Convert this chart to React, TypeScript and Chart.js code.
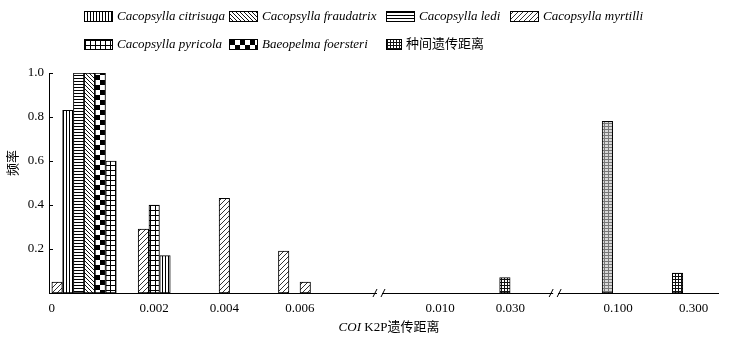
import React, { useEffect, useRef } from 'react';
import { Chart, registerables } from 'chart.js';

Chart.register(...registerables);

// x axis is a row of narrow bins (half a bar wide)
const BIN_COUNT = 124;
const tickBins = [0, 19, 32, 46, 72, 85, 105, 119];
const tickLabels = ['0', '0.002', '0.004', '0.006', '0.010', '0.030', '0.100', '0.300'];
const breakBins = [60.85, 93.5];
const yTicks = [0.2, 0.4, 0.6, 0.8, 1.0];

const seriesNames = [
  'Cacopsylla citrisuga',
  'Cacopsylla fraudatrix',
  'Cacopsylla ledi',
  'Cacopsylla myrtilli',
  'Cacopsylla pyricola',
  'Baeopelma foersteri',
  '种间遗传距离',
];

const citrisugaBins = [3, 21];
const citrisugaValues = [0.83, 0.17];
const fraudatrixBins = [7];
const fraudatrixValues = [1.0];
const lediBins = [5];
const lediValues = [1.0];
const myrtilliBins = [1, 17, 32, 43, 47];
const myrtilliValues = [0.05, 0.29, 0.43, 0.19, 0.05];
const pyricolaBins = [11, 19];
const pyricolaValues = [0.6, 0.4];
const foersteriBins = [9];
const foersteriValues = [1.0];
const interBins = [84, 103, 116];
const interValues = [0.07, 0.78, 0.09];

const xTitleItalic = 'COI';
const xTitleRest = ' K2P遗传距离';
const yTitle = '频率';

const SERIF = "'Liberation Serif', 'Noto Sans CJK SC', serif";

function toBins(bins: number[], values: number[]) {
  const arr: (number | null)[] = new Array(BIN_COUNT).fill(null);
  bins.forEach((b, i) => {
    arr[b] = values[i];
  });
  return arr;
}

function makePattern(
  main: CanvasRenderingContext2D,
  w: number,
  h: number,
  draw: (g: CanvasRenderingContext2D) => void
): CanvasPattern {
  const c = document.createElement('canvas');
  c.width = w;
  c.height = h;
  const g = c.getContext('2d')!;
  g.fillStyle = '#fff';
  g.fillRect(0, 0, w, h);
  draw(g);
  return main.createPattern(c, 'repeat')!;
}

export default function App() {
  const ref = useRef<HTMLCanvasElement>(null);

  useEffect(() => {
    const canvas = ref.current!;
    const ctx = canvas.getContext('2d')!;

    const pVertical = makePattern(ctx, 3, 1, (g) => {
      g.fillStyle = '#000';
      g.fillRect(0, 0, 1, 1);
    });
    const pHorizontal = makePattern(ctx, 1, 3, (g) => {
      g.fillStyle = '#000';
      g.fillRect(0, 0, 1, 1);
    });
    const pBack = makePattern(ctx, 4, 4, (g) => {
      g.fillStyle = '#111';
      for (let i = 0; i < 4; i++) g.fillRect(i, i, 1, 1);
    });
    const pForward = makePattern(ctx, 5, 5, (g) => {
      g.fillStyle = '#333';
      for (let i = 0; i < 5; i++) g.fillRect(4 - i, i, 1, 1);
    });
    const pGrid = makePattern(ctx, 5, 5, (g) => {
      g.fillStyle = '#000';
      g.fillRect(0, 0, 5, 1);
      g.fillRect(0, 0, 1, 5);
    });
    const pChecker = makePattern(ctx, 10, 10, (g) => {
      g.fillStyle = '#000';
      g.fillRect(0, 0, 5, 5);
      g.fillRect(5, 5, 5, 5);
    });
    const pSmallGrid = makePattern(ctx, 3, 3, (g) => {
      g.fillStyle = '#111';
      g.fillRect(0, 0, 3, 1);
      g.fillRect(0, 0, 1, 3);
    });
    const pSmallGridLight = makePattern(ctx, 4, 3, (g) => {
      g.fillStyle = '#d8d8d8';
      g.fillRect(0, 0, 4, 3);
      g.fillStyle = '#777';
      g.fillRect(0, 0, 4, 1);
      g.fillRect(0, 0, 1, 3);
    });

    const patterns = [pVertical, pBack, pHorizontal, pForward, pGrid, pChecker, pSmallGrid];
    const binsList = [citrisugaBins, fraudatrixBins, lediBins, myrtilliBins, pyricolaBins, foersteriBins, interBins];
    const valuesList = [citrisugaValues, fraudatrixValues, lediValues, myrtilliValues, pyricolaValues, foersteriValues, interValues];

    const labels: string[] = new Array(BIN_COUNT).fill('');
    tickBins.forEach((b, i) => {
      labels[b] = tickLabels[i];
    });

    const interMax = Math.max(...interValues);

    const datasets = seriesNames.map((name, i) => ({
      label: name,
      data: toBins(binsList[i], valuesList[i]),
      backgroundColor:
        i === 6
          ? (c: any) => (c.raw === interMax ? pSmallGridLight : pSmallGrid)
          : patterns[i],
      borderColor: '#000',
      borderWidth: 1,
      borderSkipped: false as const,
      grouped: false,
      barThickness: 10.5,
    }));

    const decor = {
      id: 'decor',
      afterDraw(chart: any) {
        const c: CanvasRenderingContext2D = chart.ctx;
        const area = chart.chartArea;
        const xs = chart.scales.x;
        const ys = chart.scales.y;
        c.save();

        // inward y ticks
        c.strokeStyle = '#000';
        c.lineWidth = 1;
        yTicks.forEach((v) => {
          const y = Math.round(ys.getPixelForValue(v)) + 0.5;
          c.beginPath();
          c.moveTo(area.left, y);
          c.lineTo(area.left + 4, y);
          c.stroke();
        });

        // axis breaks
        breakBins.forEach((b) => {
          const x = xs.getPixelForValue(b);
          const y = area.bottom;
          c.fillStyle = '#fff';
          c.fillRect(x - 3, y - 2, 5, 4);
          c.strokeStyle = '#000';
          c.lineWidth = 1;
          c.beginPath();
          c.moveTo(x - 7, y + 4);
          c.lineTo(x - 3, y - 4);
          c.moveTo(x + 1, y + 4);
          c.lineTo(x + 5, y - 4);
          c.stroke();
        });

        // y title
        c.fillStyle = '#000';
        c.font = `13px ${SERIF}`;
        c.textAlign = 'center';
        c.textBaseline = 'middle';
        c.translate(14, 163);
        c.rotate(-Math.PI / 2);
        c.fillText(yTitle, 0, 0);
        c.setTransform(1, 0, 0, 1, 0, 0);

        // x title
        c.textAlign = 'left';
        c.font = `italic 13px ${SERIF}`;
        const w1 = c.measureText(xTitleItalic).width;
        c.font = `13px ${SERIF}`;
        const w2 = c.measureText(xTitleRest).width;
        const cx = 389;
        const tx = cx - (w1 + w2) / 2;
        c.font = `italic 13px ${SERIF}`;
        c.fillText(xTitleItalic, tx, 328);
        c.font = `13px ${SERIF}`;
        c.fillText(xTitleRest, tx + w1, 328);

        // legend
        const cols = [84, 229, 386, 510];
        const rowsY = [16, 44];
        seriesNames.forEach((name, i) => {
          const row = i < 4 ? 0 : 1;
          const col = i < 4 ? i : i - 4;
          const sx = cols[col];
          const sw = i === 6 ? 16 : 29;
          const sh = 11;
          const sy = Math.round(rowsY[row] - sh / 2);
          c.fillStyle = patterns[i];
          c.fillRect(sx, sy, sw, sh);
          c.strokeStyle = '#000';
          c.lineWidth = 1;
          c.strokeRect(sx + 0.5, sy + 0.5, sw - 1, sh - 1);
          c.fillStyle = '#000';
          c.font = i === 6 ? `13px ${SERIF}` : `italic 13px ${SERIF}`;
          c.textBaseline = 'middle';
          c.fillText(name, sx + sw + 4, rowsY[row] + 1);
        });

        c.restore();
      },
    };

    const chart = new Chart(canvas, {
      type: 'bar',
      data: { labels, datasets: datasets as any },
      options: {
        responsive: false,
        animation: false,
        layout: { padding: { top: 73, right: 16, left: 0, bottom: 0 } },
        plugins: { legend: { display: false }, tooltip: { enabled: false } },
        scales: {
          x: {
            type: 'category',
            grid: { display: false, drawTicks: false, tickLength: 0 },
            border: { display: true, color: '#000', width: 1 },
            ticks: {
              autoSkip: false,
              maxRotation: 0,
              minRotation: 0,
              color: '#000',
              padding: 8,
              font: { family: SERIF, size: 13 },
            },
            afterFit: (s: any) => {
              s.height = 45;
            },
          },
          y: {
            min: 0,
            max: 1,
            grid: { display: false, drawTicks: false, tickLength: 0 },
            border: { display: true, color: '#000', width: 1 },
            ticks: {
              stepSize: 0.2,
              color: '#000',
              padding: 5,
              font: { family: SERIF, size: 13 },
              callback: (v: any) => (Number(v) === 0 ? '' : Number(v).toFixed(1)),
            },
            afterFit: (s: any) => {
              s.width = 49;
            },
          },
        },
      },
      plugins: [decor],
    });

    return () => chart.destroy();
  }, []);

  return (
    <div style={{ position: 'absolute', left: 0, top: 0, width: 734, height: 338, background: '#fff' }}>
      <canvas ref={ref} width={734} height={338} style={{ display: 'block', width: 734, height: 338 }} />
    </div>
  );
}
